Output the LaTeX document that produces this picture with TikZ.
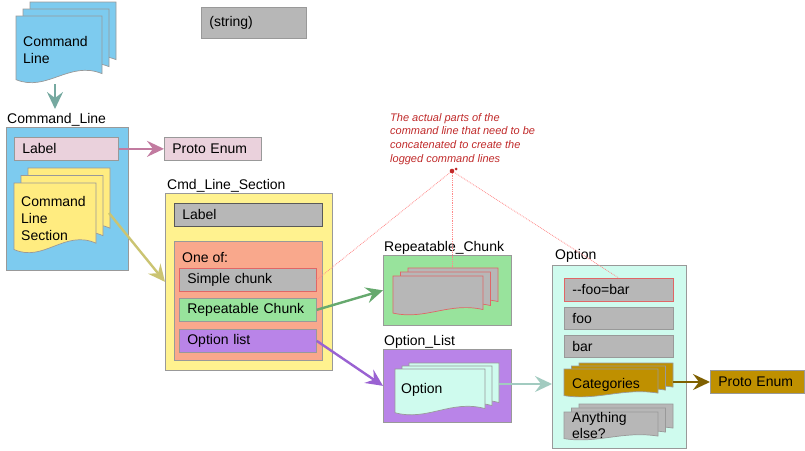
\documentclass[tikz,border=0pt]{standalone}
\usepackage{fontspec}
\setmainfont{Liberation Sans}
\usetikzlibrary{arrows.meta}
\definecolor{cblue}{HTML}{7DCBEF}
\definecolor{bgray}{HTML}{999999}
\definecolor{cgray}{HTML}{B7B7B7}
\definecolor{cdark}{HTML}{595959}
\definecolor{cred}{HTML}{E06666}
\definecolor{cpink}{HTML}{EAD1DC}
\definecolor{cpinkarr}{HTML}{C27BA0}
\definecolor{cyellow}{HTML}{FFEC80}
\definecolor{cyellowbg}{HTML}{FFF28F}
\definecolor{colive}{HTML}{CBC472}
\definecolor{csalmon}{HTML}{F9A88C}
\definecolor{cgreen}{HTML}{98E39C}
\definecolor{cgreenarr}{HTML}{66A96E}
\definecolor{cpurple}{HTML}{B984E8}
\definecolor{cpurplearr}{HTML}{9A62D2}
\definecolor{cmint}{HTML}{CFFBEE}
\definecolor{cgold}{HTML}{BF9000}
\definecolor{cgoldarr}{HTML}{7F6000}
\definecolor{cteal}{HTML}{76A9A0}
\definecolor{cteal2}{HTML}{A2CBC0}
\definecolor{cnote}{HTML}{C02A2A}
\definecolor{cdots}{HTML}{FF8A8A}
\newcommand\fs{\fontsize{14}{17}\selectfont}
\newcommand\docone[5]{\filldraw[#1] ({#2},{#3}) -- ({#2+#4},{#3}) -- ({#2+#4},{#3+0.86*#5}) .. controls ({#2+0.62*#4},{#3+0.66*#5}) and ({#2+0.36*#4},{#3+1.14*#5}) .. ({#2},{#3+0.95*#5}) -- cycle;}
\newcommand\docstack[7]{%
  \docone{#1}{#2+2*#6}{#3-2*#7}{#4}{#5}%
  \docone{#1}{#2+#6}{#3-#7}{#4}{#5}%
  \docone{#1}{#2}{#3}{#4}{#5}}
\begin{document}
\begin{tikzpicture}[x=1pt,y=-1pt,
  box/.style={draw=bgray, line width=0.7pt, anchor=north west, inner xsep=8pt, inner ysep=0pt, align=left, font=\fs},
  cont/.style={draw=bgray, line width=0.7pt, anchor=north west, inner sep=0pt},
  ttl/.style={anchor=base west, inner sep=0pt, font=\fs},
  dtxt/.style={anchor=north west, inner sep=0pt, align=left, font=\fs},
  arr/.style={line width=2.4pt, -{Stealth[length=17pt,width=16pt,inset=6pt]}},
  dots/.style={draw=cdots, densely dotted, line width=0.8pt},
  note/.style={anchor=north west, inner sep=0pt, align=left, text=cnote, font=\fontsize{11}{13.8}\selectfont\itshape}]
\useasboundingbox (0,0) rectangle (805,450);

% top document stack
\docstack{fill=cblue,draw=bgray,line width=0.7pt}{16}{16}{86}{67}{7}{7}
\node[dtxt] (cldoc) at (23,36) {Command\\Line};
\coordinate (clbot) at (55,84);
\coordinate (cltip) at (55,109);
\draw[arr, draw=cteal] (clbot) -- (cltip);

% (string)
\node[box, fill=cgray, text width=89pt, minimum height=31pt] (str) at (201,7) {(string)};

% Command_Line
\node[ttl] (cltitle) at (7,123) {Command\_Line};
\node[cont, fill=cblue, minimum width=122pt, minimum height=143pt] (cl) at (6,127) {};
\node[box, fill=cpink, text width=88pt, minimum height=23pt] (lbl1) at (14,137) {Label};
\node[box, fill=cpink, text width=81pt, minimum height=23pt] (pe1) at (164,137) {Proto Enum};
\draw[arr, draw=cpinkarr] (lbl1.east) -- (pe1.west);
\docstack{fill=cyellow,draw=bgray,line width=0.7pt}{14}{183}{82}{70}{7}{7.5}
\node[dtxt] (clsdoc) at (21,196) {Command\\Line\\Section};
\coordinate (clsout) at (109,213);

% Cmd_Line_Section
\node[ttl] (clstitle) at (167,189) {Cmd\_Line\_Section};
\node[cont, fill=cyellowbg, minimum width=167pt, minimum height=177pt] (cls) at (165,193) {};
\draw[arr, draw=colive] (clsout) -- (cls.west);
\node[box, fill=cgray, draw=cdark, text width=132pt, minimum height=23pt] (lbl2) at (174,203) {Label};
\node[cont, fill=csalmon, minimum width=148pt, minimum height=119pt] (oneof) at (174,241) {};
\node[ttl] (oneoftxt) at (182,262) {One of:};
\node[box, fill=cgray, draw=cred, text width=121pt, minimum height=23pt] (simple) at (179,268) {Simple chunk};
\node[box, fill=cgreen, text width=121pt, minimum height=23pt] (rep) at (179,298) {Repeatable Chunk};
\node[box, fill=cpurple, text width=121pt, minimum height=23pt] (optl) at (179,329) {Option list};

% Repeatable_Chunk
\node[ttl] (repctitle) at (384,251) {Repeatable\_Chunk};
\node[cont, fill=cgreen, minimum width=128pt, minimum height=70pt] (repc) at (383,255) {};
\docstack{fill=cgray,draw=cred,line width=0.7pt}{393}{276}{90}{39}{7.5}{4}
\coordinate (repdoc) at (452,268);
\draw[arr, draw=cgreenarr] (rep.east) -- (repc.west);

% Option_List
\node[ttl] (oltitle) at (384,345) {Option\_List};
\node[cont, fill=cpurple, minimum width=128pt, minimum height=73pt] (ol) at (383,349) {};
\docstack{fill=cmint,draw=bgray,line width=0.7pt}{395}{369}{90}{46}{7}{3}
\node[ttl] (oldoc) at (401,393) {Option};
\draw[arr, draw=cpurplearr] (optl.east) -- (ol.west);
\coordinate (olout) at (499,384);

% Option
\node[ttl] (opttitle) at (555,259) {Option};
\node[cont, fill=cmint, minimum width=134pt, minimum height=183pt] (opt) at (552,265) {};
\draw[arr, draw=cteal2] (olout) -- (olout -| opt.west);
\node[box, fill=cgray, draw=cred, text width=93pt, minimum height=23pt] (foobar) at (564,278) {{-}{-}foo=bar};
\node[box, fill=cgray, text width=93pt, minimum height=22pt] (foo) at (564,307) {foo};
\node[box, fill=cgray, text width=93pt, minimum height=22pt] (bar) at (564,335) {bar};
\docstack{fill=cgold,draw=bgray,line width=0.7pt}{564}{369}{94}{28}{7.5}{3}
\node[ttl] (cat) at (572,388) {Categories};
\coordinate (catout) at (673,382);
\docstack{fill=cgray,draw=bgray,line width=0.7pt}{564}{412}{94}{28}{7.5}{4}
\node[dtxt, font=\fontsize{14}{16}\selectfont] (any) at (572,412) {Anything\\else?};
\node[box, fill=cgold, text width=78pt, minimum height=23pt] (pe2) at (710,370) {Proto Enum};
\draw[arr, draw=cgoldarr] (catout) -- (catout -| pe2.west);

% note
\node[note] (notetxt) at (390,113) {The actual parts of the\\command line that need to be\\concatenated to create the\\logged command lines};
\coordinate (dot) at (452,171);
\draw[dots] (dot) -- (simple.east);
\draw[dots] (dot) -- (repdoc);
\draw[dots] (dot) -- (foobar.north);
\fill[cnote] (dot) circle (2.3pt);
\fill[cnote] (456,169) circle (1.5pt);
\end{tikzpicture}
\end{document}
